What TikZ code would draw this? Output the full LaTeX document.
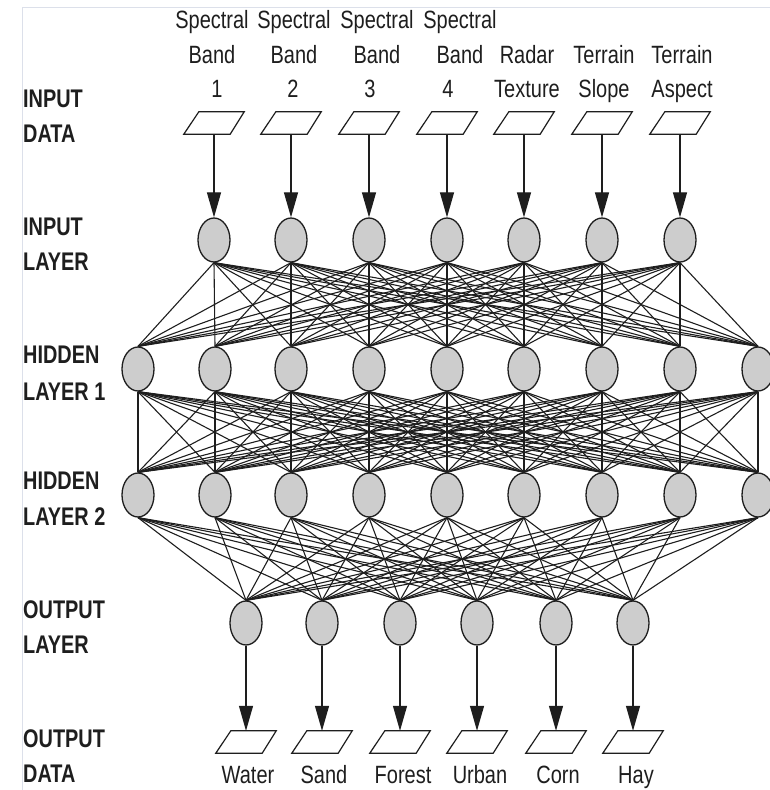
\documentclass[tikz,border=0pt]{standalone}
\usepackage{fontspec}
\setmainfont{Liberation Sans}
\newfontfamily\labfont[FakeStretch=0.8]{Liberation Sans}
\newfontfamily\sidefont[FakeStretch=0.78]{Liberation Sans}
\usetikzlibrary{arrows.meta,shapes.geometric,backgrounds}
\definecolor{framec}{RGB}{220,224,234}
\definecolor{nodefill}{RGB}{205,205,205}
\definecolor{inkc}{RGB}{30,30,30}
\tikzset{
  neuron/.style={ellipse,draw=inkc,line width=1.3pt,fill=nodefill,minimum width=32pt,minimum height=44pt,inner sep=0pt},
  link/.style={draw=inkc,line width=1.1pt},
  feed/.style={draw=inkc,line width=1.2pt,-{Triangle[width=14pt,length=25pt]}},
  databox/.style={rectangle,draw=none,minimum width=60pt,minimum height=22pt,inner sep=0pt},
  datapar/.style={draw=inkc,line width=1.2pt,fill=white,line join=miter},
  lab/.style={inner sep=0pt,anchor=base,font=\labfont\fontsize{25}{30}\selectfont,text=inkc},
  side/.style={inner sep=0pt,anchor=base west,font=\sidefont\bfseries\fontsize{25.5}{30}\selectfont,text=inkc},
  framel/.style={draw=framec,line width=1pt}
}
\newcommand{\dataparallel}[1]{%
  \draw[datapar] (#1.south west) -- ([xshift=-14pt]#1.south east) -- (#1.north east) -- ([xshift=15pt]#1.north west) -- cycle;}
\begin{document}
\begin{tikzpicture}[x=1pt,y=-1pt]
\useasboundingbox (0,0) rectangle (770,790);
\draw[framel] (22,790) -- (22,7) -- (770,7);

% input data parallelograms and input layer
\foreach \x [count=\i] in {214,291,369,447,524,602,680} {
  \node[databox] (din\i) at (\x,123) {};
  \dataparallel{din\i}
  \node[neuron] (a\i) at (\x,240) {};
}
% hidden layers
\foreach \x [count=\i] in {138,215,291,369,447,524,602,680,758} {
  \node[neuron] (h\i) at (\x,369) {};
  \node[neuron] (g\i) at (\x,495) {};
}
% output layer and output data
\foreach \x [count=\i] in {246,322,400,477,556,633} {
  \node[neuron] (o\i) at (\x,623) {};
  \node[databox] (dout\i) at (\x,742) {};
  \dataparallel{dout\i}
}

\begin{scope}[on background layer]
\foreach \i in {1,...,7} \foreach \j in {1,...,9} \draw[link] (a\i.south) -- (h\j.north);
\foreach \i in {1,...,9} \foreach \j in {1,...,9} \draw[link] (h\i.south) -- (g\j.north);
\foreach \i in {1,...,9} \foreach \j in {1,...,6} \draw[link] (g\i.south) -- (o\j.north);
\end{scope}

\foreach \i in {1,...,7} \draw[feed] (din\i.south) -- (a\i.north);
\foreach \i in {1,...,6} \draw[feed] (o\i.south) -- (dout\i.north);

% top labels
\node[lab] (s1) at (212,28) {Spectral};
\node[lab] (s2) at (294,28) {Spectral};
\node[lab] (s3) at (377,28) {Spectral};
\node[lab] (s4) at (460,28) {Spectral};
\node[lab] (b1) at (212,63) {Band};
\node[lab] (b2) at (294,63) {Band};
\node[lab] (b3) at (377,63) {Band};
\node[lab] (b4) at (460,63) {Band};
\node[lab] (n1) at (217,97) {1};
\node[lab] (n2) at (293,97) {2};
\node[lab] (n3) at (370,97) {3};
\node[lab] (n4) at (448,97) {4};
\node[lab] (r1) at (527,63) {Radar};
\node[lab] (r2) at (527,97) {Texture};
\node[lab] (ts1) at (604,63) {Terrain};
\node[lab] (ts2) at (604,97) {Slope};
\node[lab] (ta1) at (682,63) {Terrain};
\node[lab] (ta2) at (682,97) {Aspect};

% bottom labels
\node[lab] (w) at (248,783) {Water};
\node[lab] (sd) at (324,783) {Sand};
\node[lab] (fo) at (403,783) {Forest};
\node[lab] (ur) at (480,783) {Urban};
\node[lab] (co) at (558,783) {Corn};
\node[lab] (hy) at (636,783) {Hay};

% side labels
\node[side] (l1a) at (23,107) {INPUT};
\node[side] (l1b) at (23,142) {DATA};
\node[side] (l2a) at (23,235) {INPUT};
\node[side] (l2b) at (23,270) {LAYER};
\node[side] (l3a) at (23,363) {HIDDEN};
\node[side] (l3b) at (23,400) {LAYER 1};
\node[side] (l4a) at (23,489) {HIDDEN};
\node[side] (l4b) at (23,525) {LAYER 2};
\node[side] (l5a) at (23,618) {OUTPUT};
\node[side] (l5b) at (23,653) {LAYER};
\node[side] (l6a) at (23,747) {OUTPUT};
\node[side] (l6b) at (23,782) {DATA};
\end{tikzpicture}
\end{document}
